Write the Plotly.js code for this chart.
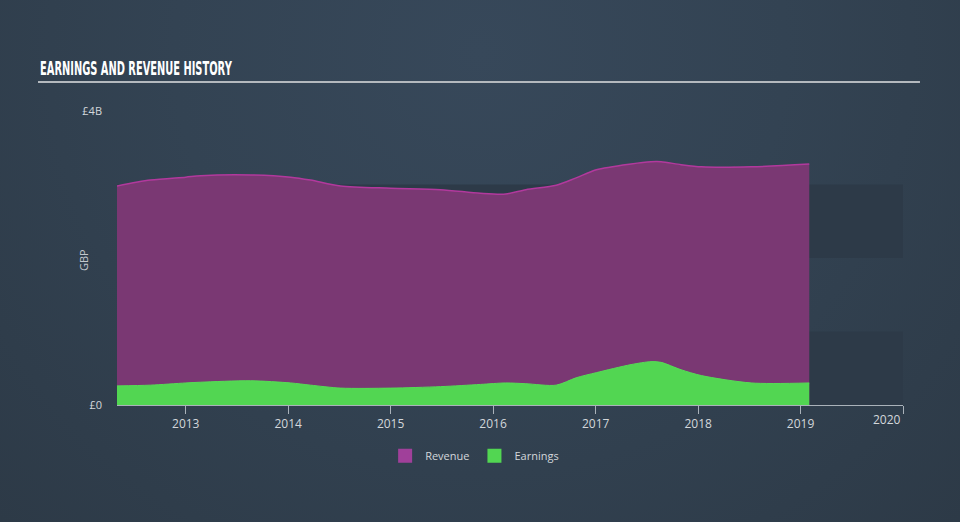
<!DOCTYPE html>
<html>
<head>
<meta charset="utf-8">
<script src="https://cdn.plot.ly/plotly-3.0.1.min.js"></script>
<style>
  html, body { margin: 0; padding: 0; width: 960px; height: 522px; overflow: hidden;
    background: radial-gradient(ellipse at 50% 10%, #37485a 0%, #334353 45%, #2d3a47 100%); }
  #chart { width: 960px; height: 522px; }
</style>
</head>
<body>
<div id="chart"></div>
<script>
// Period end dates
const dates = [
  '2012-05-01','2012-08-28','2013-01-01','2013-02-23','2013-08-20','2014-01-10',
  '2014-03-22','2014-07-07','2015-01-01','2015-06-28','2015-11-17','2016-02-15',
  '2016-04-27','2016-08-13','2016-10-23','2017-01-03','2017-05-07','2017-07-17',
  '2017-08-22','2017-11-01','2018-01-13','2018-07-09','2019-02-01'
];
// Revenue, GBP
const revenue = [
  2.98e9, 3.06e9, 3.10e9, 3.12e9, 3.13e9, 3.10e9,
  3.06e9, 2.98e9, 2.95e9, 2.93e9, 2.88e9, 2.87e9,
  2.93e9, 2.99e9, 3.09e9, 3.20e9, 3.28e9, 3.31e9,
  3.31e9, 3.27e9, 3.24e9, 3.24e9, 3.28e9
];
// Earnings, GBP
const earnings = [
  0.26e9, 0.27e9, 0.30e9, 0.31e9, 0.33e9, 0.30e9,
  0.27e9, 0.23e9, 0.23e9, 0.25e9, 0.28e9, 0.30e9,
  0.29e9, 0.27e9, 0.37e9, 0.44e9, 0.55e9, 0.59e9,
  0.58e9, 0.48e9, 0.40e9, 0.30e9, 0.30e9
];
const xTickVals = ['2013-01-01','2014-01-01','2015-01-01','2016-01-01','2017-01-01','2018-01-01','2019-01-01','2020-01-01'];
const xTickText = ['2013','2014','2015','2016','2017','2018','2019',''];
const yTickVals = [0, 4e9];
const yTickText = ['£0', '£4B'];
const titleText = 'EARNINGS AND REVENUE HISTORY';

const labelColor = '#d3d7db';
const fontFam = '"Open Sans", "DejaVu Sans", sans-serif';
const revFill = '#7a3873', revLine = '#b2399d';
const earnFill = '#52d652', earnLine = '#55dd55';

const traces = [
  {
    x: dates, y: revenue, name: 'Revenue', type: 'scatter', mode: 'lines',
    fill: 'tozeroy', fillcolor: revFill, showlegend: false,
    line: { color: revLine, width: 1.5, shape: 'spline', smoothing: 0.8 },
    hoverinfo: 'skip'
  },
  {
    x: dates, y: earnings, name: 'Earnings', type: 'scatter', mode: 'lines',
    fill: 'tozeroy', fillcolor: earnFill, showlegend: false,
    line: { color: earnLine, width: 1, shape: 'spline', smoothing: 0.8 },
    hoverinfo: 'skip'
  },
  // legend swatches
  { x: [null], y: [null], name: 'Revenue', type: 'scatter', mode: 'markers',
    marker: { symbol: 'square', size: 14, color: '#a0409a' }, showlegend: true, hoverinfo: 'skip' },
  { x: [null], y: [null], name: 'Earnings', type: 'scatter', mode: 'markers',
    marker: { symbol: 'square', size: 14, color: earnFill }, showlegend: true, hoverinfo: 'skip' }
];

const layout = {
  width: 960, height: 522,
  margin: { l: 117, r: 57, t: 111, b: 117 },
  paper_bgcolor: 'rgba(0,0,0,0)',
  plot_bgcolor: 'rgba(0,0,0,0)',
  font: { family: fontFam, color: labelColor, size: 12 },
  showlegend: true,
  legend: {
    orientation: 'h', x: 0.455, xanchor: 'center', y: -0.173, yanchor: 'middle',
    font: { size: 11, color: labelColor }, bgcolor: 'rgba(0,0,0,0)',
    itemwidth: 30
  },
  xaxis: {
    type: 'date',
    range: ['2012-05-01', '2020-01-01'],
    tickvals: xTickVals, ticktext: xTickText,
    ticks: 'outside', ticklen: 8, tickcolor: '#aab2ba', tickwidth: 1,
    showline: true, linecolor: '#aab2ba', linewidth: 1,
    showgrid: false, zeroline: false,
    tickfont: { size: 12, color: labelColor },
    fixedrange: true
  },
  yaxis: {
    range: [0, 4e9],
    tickvals: yTickVals, ticktext: yTickText,
    showgrid: false, zeroline: false, showline: false,
    ticks: '', ticklabelstandoff: 14,
    tickfont: { size: 11, color: labelColor },
    fixedrange: true
  },
  shapes: [
    { type: 'rect', layer: 'below', xref: 'paper', yref: 'y', x0: 0, x1: 1, y0: 0, y1: 1e9,
      fillcolor: '#2d3a48', line: { width: 0 } },
    { type: 'rect', layer: 'below', xref: 'paper', yref: 'y', x0: 0, x1: 1, y0: 2e9, y1: 3e9,
      fillcolor: '#2d3a48', line: { width: 0 } },
    { type: 'line', xref: 'paper', yref: 'paper', x0: -0.1005, x1: 1.0216, y0: 1.0986, y1: 1.0986,
      line: { color: '#b4b9be', width: 2 } }
  ],
  annotations: [
    { text: titleText, xref: 'paper', yref: 'paper',
      x: -0.1005, y: 1.146, xanchor: 'left', yanchor: 'middle', showarrow: false,
      font: { family: '"DejaVu Sans", sans-serif', size: 19, color: '#ffffff', weight: 'bold' } },
    { text: 'GBP', xref: 'paper', yref: 'paper', x: -0.0433, y: 0.493,
      xanchor: 'center', yanchor: 'middle', textangle: -90, showarrow: false,
      font: { size: 11, color: '#c3c8cd' } },
    { text: '2020', xref: 'paper', yref: 'paper', x: 1.0, y: -0.05,
      xanchor: 'right', yanchor: 'middle', showarrow: false,
      font: { size: 12, color: labelColor } }
  ]
};

Plotly.newPlot('chart', traces, layout, { displayModeBar: false, staticPlot: true }).then(function (gd) {
  // condense the title text horizontally to mimic the narrow display face
  const texts = gd.querySelectorAll('.annotation-text');
  texts.forEach(function (t) {
    if (t.textContent === titleText) {
      const bb = t.getBBox();
      const targetW = 192;
      const s = targetW / bb.width;
      const left = 38; // page x of title left edge
      const svg = t.ownerSVGElement;
      const ctm = t.getScreenCTM();
      const svgRect = svg.getBoundingClientRect();
      const localLeft = bb.x;
      const prev = t.getAttribute('transform') || '';
      t.setAttribute('transform', prev + ' translate(' + (localLeft * (1 - s)) + ',0) scale(' + s + ',1)');
    }
  });
});
</script>
</body>
</html>
